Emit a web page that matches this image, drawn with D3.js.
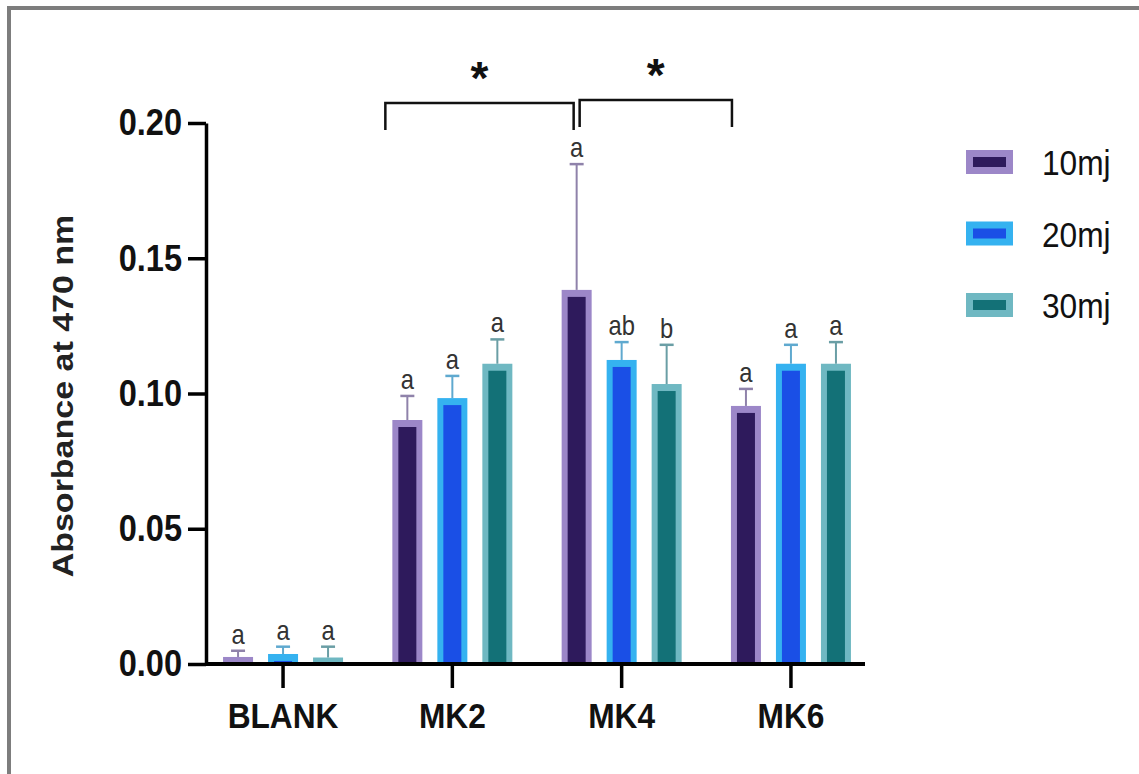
<!DOCTYPE html>
<html>
<head>
<meta charset="utf-8">
<script src="https://cdn.jsdelivr.net/npm/d3@7"></script>
<style>
  html, body { margin: 0; padding: 0; background: #fff; }
  svg { display: block; }
  text { font-family: "Liberation Sans", Arial, sans-serif; }
</style>
</head>
<body>
<svg id="chart" width="1139" height="774"></svg>
<script>
// Absorbance at 470 nm per sample and laser energy (mean + SD)
const categories = ["BLANK", "MK2", "MK4", "MK6"];
const seriesNames = ["10mj", "20mj", "30mj"];
const means10 = [0.0026, 0.0902, 0.1383, 0.0954];
const sd10    = [0.0023, 0.0089, 0.0465, 0.0063];
const means20 = [0.0037, 0.0983, 0.1124, 0.1110];
const sd20    = [0.0027, 0.0082, 0.0066, 0.0070];
const means30 = [0.0024, 0.1110, 0.1035, 0.1110];
const sd30    = [0.0040, 0.0090, 0.0145, 0.0080];
const letters10 = ["a", "a", "a", "a"];
const letters20 = ["a", "a", "ab", "a"];
const letters30 = ["a", "a", "b", "a"];
const yTicks = [0, 0.05, 0.10, 0.15, 0.20];
const comparisons = [
  { from: "MK2", to: "MK4", label: "*" },
  { from: "MK4", to: "MK6", label: "*" }
];

const series = [
  { name: seriesNames[0], means: means10, sd: sd10, letters: letters10, fill: "#2e1a5c", edge: "#9c87c8", err: "#8f82aa" },
  { name: seriesNames[1], means: means20, sd: sd20, letters: letters20, fill: "#1a4fe6", edge: "#35b2f0", err: "#5fa9cf" },
  { name: seriesNames[2], means: means30, sd: sd30, letters: letters30, fill: "#137177", edge: "#6fb8c2", err: "#6a9ea5" }
];

const SX = 0.88; // horizontal squeeze applied to the label text
const svg = d3.select("#chart");
svg.append("rect").attr("width", 1139).attr("height", 774).attr("fill", "#fff");

// outer frame (top and left edges)
svg.append("path")
  .attr("d", "M9,774 L9,8 L1139,8")
  .attr("fill", "none").attr("stroke", "#7d7d7d").attr("stroke-width", 4);

const y = d3.scaleLinear().domain([0, 0.2]).range([664, 123]);
const x = d3.scaleBand().domain(categories).range([198.4, 875.6]).paddingInner(0).paddingOuter(0);
const xs = d3.scaleBand().domain(seriesNames).range([-60, 60]).paddingInner(1 / 3).paddingOuter(0);
const axisX0 = 206;

// bars
const bars = svg.append("g");
series.forEach(s => {
  categories.forEach((c, i) => {
    const cx = x(c) + x.bandwidth() / 2;
    const left = cx + xs(s.name);
    const w = xs.bandwidth();
    const top = y(s.means[i]);
    const h = y(0) - top;
    bars.append("rect").attr("x", left).attr("y", top).attr("width", w).attr("height", h).attr("fill", s.edge);
    const insetX = 6, insetT = 7;
    if (h > insetT) {
      bars.append("rect").attr("x", left + insetX).attr("y", top + insetT)
        .attr("width", w - 2 * insetX).attr("height", h - insetT).attr("fill", s.fill);
    }
    // upward error bar
    const bx = left + w / 2;
    const capY = y(s.means[i] + s.sd[i]);
    bars.append("line").attr("x1", bx).attr("x2", bx).attr("y1", top).attr("y2", capY)
      .attr("stroke", s.err).attr("stroke-width", 2);
    bars.append("line").attr("x1", bx - 7).attr("x2", bx + 7).attr("y1", capY).attr("y2", capY)
      .attr("stroke", s.err).attr("stroke-width", 2.5);
    // group letter
    bars.append("text")
      .attr("transform", `translate(${bx},${capY - 7}) scale(${SX},1)`)
      .attr("text-anchor", "middle").attr("font-size", 27).attr("fill", "#333")
      .text(s.letters[i]);
  });
});

// y axis
const yAxis = svg.append("g").attr("transform", `translate(${axisX0},0)`)
  .call(d3.axisLeft(y).tickValues(yTicks).tickFormat(d3.format(".2f")).tickSize(18).tickSizeOuter(0).tickPadding(6));
yAxis.select(".domain").attr("stroke", "#000").attr("stroke-width", 3.5);
yAxis.selectAll(".tick line").attr("stroke", "#000").attr("stroke-width", 3.5);
yAxis.selectAll(".tick text")
  .attr("font-size", 37).attr("font-weight", "bold").attr("fill", "#111")
  .attr("font-family", "'Liberation Sans', Arial, sans-serif")
  .attr("transform", `scale(${SX},1)`)
  .attr("x", -24 / SX);

// x axis
const xAxis = svg.append("g").attr("transform", `translate(0,${y(0)})`)
  .call(d3.axisBottom(x).tickSize(24).tickSizeOuter(0).tickPadding(14));
xAxis.select(".domain").remove();
xAxis.append("line").attr("x1", axisX0).attr("x2", 865).attr("y1", 0).attr("y2", 0)
  .attr("stroke", "#000").attr("stroke-width", 4);
xAxis.selectAll(".tick line").attr("stroke", "#000").attr("stroke-width", 3.5);
xAxis.selectAll(".tick text")
  .attr("font-size", 36).attr("font-weight", "bold").attr("fill", "#111")
  .attr("font-family", "'Liberation Sans', Arial, sans-serif")
  .attr("transform", `scale(${SX},1)`)
  .attr("x", function () { return 0; });
// keep tick labels centred on their ticks after the squeeze
xAxis.selectAll(".tick").each(function () {
  d3.select(this).select("text").attr("transform", `scale(${SX},1)`);
});

// y axis title
svg.append("text")
  .attr("transform", `translate(73,396) scale(${SX},1) rotate(-90)`)
  .attr("text-anchor", "middle").attr("font-size", 34).attr("font-weight", "bold").attr("fill", "#222")
  .text("Absorbance at 470 nm");

// significance brackets
const firstBarLeft = c => x(c) + x.bandwidth() / 2 + xs(seriesNames[0]);
const firstBarMid = c => firstBarLeft(c) + xs.bandwidth() / 2;
const bracketDefs = [
  { x1: firstBarLeft(comparisons[0].from) - 7, x2: firstBarMid(comparisons[0].to) - 3, top: 103, bottom: 130, label: comparisons[0].label },
  { x1: firstBarMid(comparisons[1].from) + 3, x2: firstBarLeft(comparisons[1].to) + 1, top: 100, bottom: 127, label: comparisons[1].label }
];
bracketDefs.forEach(b => {
  svg.append("path")
    .attr("d", `M${b.x1},${b.bottom} L${b.x1},${b.top} L${b.x2},${b.top} L${b.x2},${b.bottom}`)
    .attr("fill", "none").attr("stroke", "#111").attr("stroke-width", 2.5);
  svg.append("text")
    .attr("x", (b.x1 + b.x2) / 2).attr("y", b.top - 9)
    .attr("text-anchor", "middle").attr("font-size", 46).attr("font-weight", "bold").attr("fill", "#111")
    .text(b.label);
});

// legend
const legend = svg.append("g").attr("transform", "translate(966,150)");
series.forEach((s, i) => {
  const g = legend.append("g").attr("transform", `translate(0,${i * 71.5})`);
  g.append("rect").attr("width", 47).attr("height", 24).attr("fill", s.edge);
  g.append("rect").attr("x", 7).attr("y", 7).attr("width", 33).attr("height", 10).attr("fill", s.fill);
  g.append("text")
    .attr("transform", `translate(76,25) scale(${SX},1)`)
    .attr("font-size", 36).attr("fill", "#111")
    .text(s.name);
});
</script>
</body>
</html>
